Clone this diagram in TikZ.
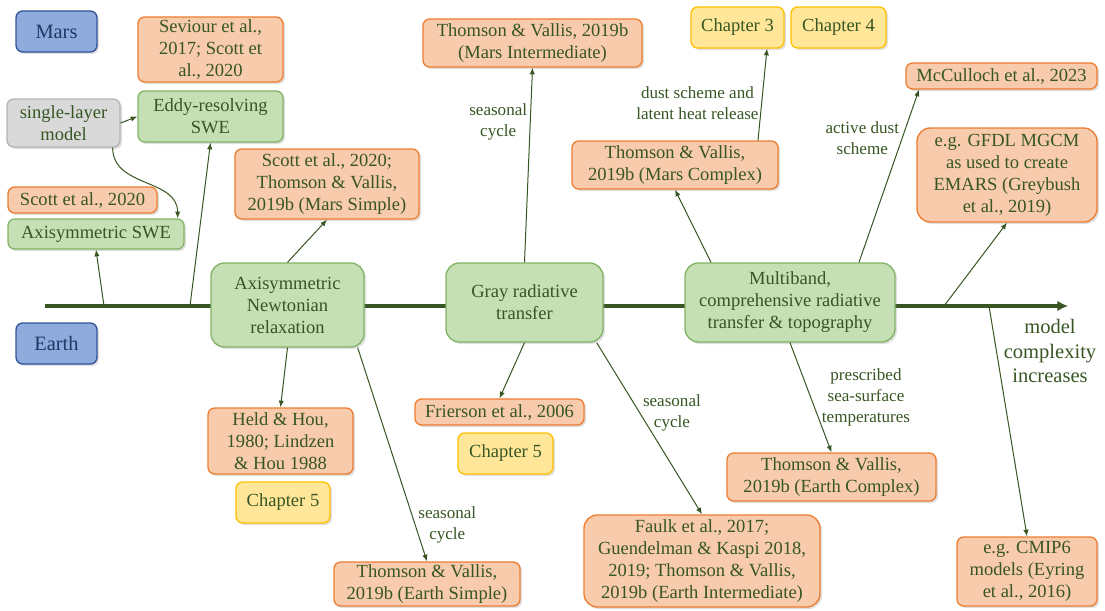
\documentclass[tikz,border=0pt]{standalone}
\usepackage{fontspec}
\setmainfont{Liberation Serif}
\usetikzlibrary{calc,arrows.meta,shadows}

\definecolor{txtgreen}{HTML}{375623}
\definecolor{txtblue}{HTML}{1F3864}
\definecolor{grnfill}{HTML}{C5E0B4}
\definecolor{grnline}{HTML}{82B366}
\definecolor{orgfill}{HTML}{F8CBAD}
\definecolor{orgline}{HTML}{ED7D31}
\definecolor{ylwfill}{HTML}{FFE699}
\definecolor{ylwline}{HTML}{FFC000}
\definecolor{blufill}{HTML}{8FAADC}
\definecolor{bluline}{HTML}{2F5597}
\definecolor{gryfill}{HTML}{D9D9D9}
\definecolor{gryline}{HTML}{B3B3B3}

\tikzset{
  box/.style={draw, rounded corners=5pt, align=center, inner sep=1pt, line width=1pt,
    text=txtgreen, font=\fontsize{13.9}{16.5}\selectfont,
    drop shadow={shadow xshift=1.5pt, shadow yshift=-1.5pt, opacity=0.25}},
  grn/.style={box, fill=grnfill, draw=grnline},
  org/.style={box, fill=orgfill, draw=orgline},
  ylw/.style={box, fill=ylwfill, draw=ylwline},
  gry/.style={box, fill=gryfill, draw=gryline},
  blu/.style={box, fill=blufill, draw=bluline, text=txtblue, font=\fontsize{15.3}{18}\selectfont},
  conn/.style={draw=txtgreen, line width=0.75pt, -{Latex[length=5pt,width=4pt]}},
  lbl/.style={text=txtgreen, font=\fontsize{12.8}{15.8}\selectfont, align=center, inner sep=2pt},
}

\begin{document}
\begin{tikzpicture}[x=0.75pt, y=-0.75pt]
  %%%%% START %%%%%
  \useasboundingbox (0,0) rectangle (1105,610);

  % complexity axis
  \coordinate (axs) at (45,306);
  \coordinate (axe) at (1068,306);
  \coordinate (ax1) at (104,306);
  \coordinate (ax2) at (190,306);
  \coordinate (ax3) at (944,306);
  \coordinate (ax4) at (989,306);
  \draw[txtgreen, line width=2.3pt, -{Latex[length=8pt,width=8pt]}] (axs) -- (axe);
  \node[lbl, font=\fontsize{15.4}{18.4}\selectfont] (cplx) at (1050,351) {model\\ complexity\\ increases};

  \node[blu, minimum width=60.75pt, minimum height=30.75pt] (mars) at (56.5,31.5) {Mars};
  \node[blu, minimum width=60.75pt, minimum height=30.75pt] (earth) at (56.5,343.5) {Earth};

  % shallow-water models
  \node[org, minimum width=108.75pt, minimum height=48.75pt] (sev) at (210.5,49.5) {Seviour et al.,\\ 2017; Scott et\\ al., 2020};
  \node[grn, minimum width=108.75pt, minimum height=38.25pt] (eddy) at (210.5,116.5) {Eddy-resolving\\ SWE};
  \node[gry, minimum width=84.75pt, minimum height=36pt] (single) at (63.5,123) {single-layer\\ model};
  \node[org, minimum width=111.75pt, minimum height=19.5pt] (scott) at (82.5,200) {Scott et al., 2020};
  \node[grn, minimum width=132pt, minimum height=22.5pt] (sweax) at (96,234) {Axisymmetric SWE};

  % Newtonian relaxation
  \node[org, minimum width=138pt, minimum height=52.5pt] (stv) at (327,184) {Scott et al., 2020;\\ Thomson \& Vallis,\\ 2019b (Mars Simple)};
  \node[grn, minimum width=114.75pt, minimum height=63pt, rounded corners=10pt] (newt) at (287.5,305) {Axisymmetric\\ Newtonian\\ relaxation};
  \node[org, minimum width=108.75pt, minimum height=49.5pt] (held) at (280.5,441) {Held \& Hou,\\ 1980; Lindzen\\ \& Hou 1988};
  \node[ylw, minimum width=70.5pt, minimum height=30.75pt] (chfa) at (283,502.5) {Chapter 5};
  \node[org, minimum width=139.5pt, minimum height=33pt] (es) at (427,584) {Thomson \& Vallis,\\ 2019b (Earth Simple)};

  % gray radiation
  \node[org, minimum width=164.25pt, minimum height=36pt] (mint) at (532.5,43) {Thomson \& Vallis, 2019b\\ (Mars Intermediate)};
  \node[grn, minimum width=117.75pt, minimum height=59.25pt, rounded corners=10pt] (gray) at (524.5,302.5) {Gray radiative\\ transfer};
  \node[org, minimum width=126.75pt, minimum height=19.5pt] (fri) at (499.5,412) {Frierson et al., 2006};
  \node[ylw, minimum width=71.25pt, minimum height=30.75pt] (chfb) at (505.5,453.5) {Chapter 5};
  \node[org, minimum width=177pt, minimum height=69pt, rounded corners=10pt] (faulk) at (702,561) {Faulk et al., 2017;\\ Guendelman \& Kaspi 2018,\\ 2019; Thomson \& Vallis,\\ 2019b (Earth Intermediate)};

  % comprehensive models
  \node[ylw, minimum width=69.75pt, minimum height=30.75pt] (ch3) at (737.5,27.5) {Chapter 3};
  \node[ylw, minimum width=71.25pt, minimum height=30.75pt] (ch4) at (838.5,27.5) {Chapter 4};
  \node[org, minimum width=154.5pt, minimum height=36pt] (mcx) at (675,165) {Thomson \& Vallis,\\ 2019b (Mars Complex)};
  \node[org, minimum width=143.25pt, minimum height=19.5pt] (mcc) at (1001.5,76) {McCulloch et al., 2023};
  \node[org, minimum width=135pt, minimum height=70.5pt, rounded corners=10pt] (gfdl) at (1007,175) {e.g. GFDL MGCM\\ as used to create\\ EMARS (Greybush\\ et al., 2019)};
  \node[grn, minimum width=157.5pt, minimum height=59.25pt, rounded corners=10pt] (mb) at (790,302.5) {Multiband,\\ comprehensive radiative\\ transfer \& topography};
  \node[org, minimum width=156.75pt, minimum height=36pt] (ec) at (831.5,477) {Thomson \& Vallis,\\ 2019b (Earth Complex)};
  \node[org, minimum width=105pt, minimum height=51.75pt] (cmip) at (1027,571.5) {e.g. CMIP6\\ models (Eyring\\ et al., 2016)};

  % connectors
  \draw[conn] (ax1) -- (sweax.south);
  \draw[conn] (ax2) -- (eddy.south);
  \draw[conn] (single.east) -- (eddy.west);
  \draw[conn] ($(single.south east)+(-8,0)$) .. controls +(0,40) and +(0,-40) .. ($(sweax.north east)+(-7,0)$);
  \draw[conn] (newt.north) -- (stv.south);
  \draw[conn] (newt.south) -- (held.north);
  \draw[conn] ($(newt.south east)+(-7,0)$) -- node[lbl, pos=0.83, right] {seasonal\\ cycle} (es.north);
  \draw[conn] (gray.north) -- node[lbl, pos=0.72, left] {seasonal\\ cycle} (mint.south);
  \draw[conn] (gray.south) -- (fri.north);
  \draw[conn] ($(gray.south east)+(-7,0)$) -- node[lbl, pos=0.41, right] {seasonal\\ cycle} (faulk.north);
  \draw[conn] ($(mb.north)+(-79,0)$) -- (mcx.south);
  \draw[conn] ($(mcx.north)+(83,0)$) -- node[lbl, pos=0.41, left] {dust scheme and\\ latent heat release} ($(ch3.south)+(29.5,0)$);
  \draw[conn] ($(mb.north)+(69,0)$) -- node[lbl, pos=0.72, left] {active dust\\ scheme} ($(mcc.south)+(-82.5,0)$);
  \draw[conn] (mb.south) -- node[lbl, pos=0.5, right, xshift=6pt] {prescribed\\ sea-surface\\ temperatures} (ec.north);
  \draw[conn] (ax3) -- (gfdl.south);
  \draw[conn] (ax4) -- (cmip.north);

  %%%%% END %%%%%
\end{tikzpicture}
\end{document}
